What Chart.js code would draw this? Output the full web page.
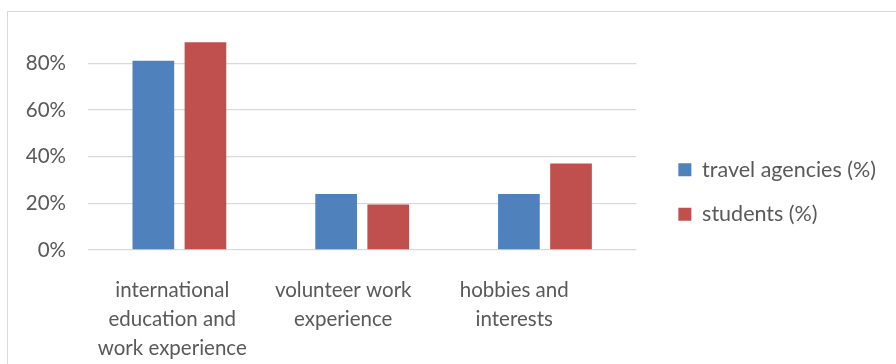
<!DOCTYPE html>
<html>
<head>
<meta charset="utf-8">
<script src="https://cdn.jsdelivr.net/npm/chart.js@4.4.1/dist/chart.umd.min.js"></script>
<style>
  html, body { margin: 0; padding: 0; background: #fff; }
  #wrap { position: relative; width: 896px; height: 364px; }
  #frame { position: absolute; left: 7px; top: 11px; right: 0; bottom: 0;
           border-left: 1px solid #d9d9d9; border-top: 1px solid #d9d9d9; }
  canvas { position: absolute; left: 0; top: 0; }
</style>
</head>
<body>
<div id="wrap">
  <div id="frame"></div>
  <canvas id="chart" width="896" height="364"></canvas>
</div>
<script>
const categories = [
  ['international', 'education and', 'work experience'],
  ['volunteer work', 'experience'],
  ['hobbies and', 'interests']
];
const seriesNames = ['travel agencies (%)', 'students (%)'];
const travelAgencies = [0.81, 0.24, 0.24];
const students = [0.89, 0.195, 0.37];
const yTicks = [0, 0.2, 0.4, 0.6, 0.8];

const textColor = '#595959';
const fontFamily = 'Lato, "Open Sans", sans-serif';
const fontSize = 20.5;

const ctx = document.getElementById('chart');

// drop the extra room Chart.js reserves for overflowing tick labels
const noPadding = (scale) => {
  scale.paddingTop = 0;
  scale.paddingBottom = 0;
  scale.paddingLeft = 0;
  scale.paddingRight = 0;
};

new Chart(ctx, {
  type: 'bar',
  data: {
    labels: categories.map(c => c.join(' ')),
    datasets: [
      {
        label: seriesNames[0],
        data: travelAgencies,
        backgroundColor: '#4f81bd',
        xAxisID: 'x',
      },
      {
        label: seriesNames[1],
        data: students,
        backgroundColor: '#c0504d',
        xAxisID: 'x',
      }
    ]
  },
  options: {
    responsive: false,
    animation: false,
    devicePixelRatio: 1,
    categoryPercentage: 0.57,
    barPercentage: 0.8,
    layout: {
      padding: { top: 20, right: 10, left: 0, bottom: 0 }
    },
    plugins: {
      tooltip: { enabled: false },
      legend: {
        position: 'right',
        align: 'center',
        maxWidth: 300,
        labels: {
          boxWidth: 13,
          boxHeight: 13,
          padding: 23,
          color: textColor,
          font: { family: fontFamily, size: 21.5 }
        }
      }
    },
    scales: {
      x: {
        display: false,
      },
      xl: {
        type: 'linear',
        position: 'bottom',
        offset: false,
        min: -0.4927,
        max: 2.7143,
        grid: { display: false, offset: false },
        border: { display: false },
        afterBuildTicks: (scale) => {
          scale.ticks = categories.map((c, i) => ({ value: i }));
        },
        afterFit: (scale) => { scale.height = 114; noPadding(scale); },
        ticks: {
          padding: 17.5,
          maxRotation: 0,
          autoSkip: false,
          color: textColor,
          font: { family: fontFamily, size: fontSize, lineHeight: 29 / fontSize },
          callback: (v) => categories[v]
        }
      },
      y: {
        min: 0,
        max: 0.985,
        grid: { color: '#d9d9d9', lineWidth: 1.3, drawTicks: false },
        border: { display: false },
        afterBuildTicks: (scale) => {
          scale.ticks = yTicks.map(v => ({ value: v }));
        },
        afterFit: (scale) => { scale.width = 88; noPadding(scale); },
        ticks: {
          padding: 22,
          color: textColor,
          font: { family: fontFamily, size: fontSize },
          callback: (v) => Math.round(v * 100) + '%'
        }
      },
      gap: {
        type: 'linear',
        position: 'right',
        grid: { display: false },
        border: { display: false },
        ticks: { display: false },
        afterFit: (scale) => { scale.width = 19; noPadding(scale); }
      }
    }
  }
});
</script>
</body>
</html>
